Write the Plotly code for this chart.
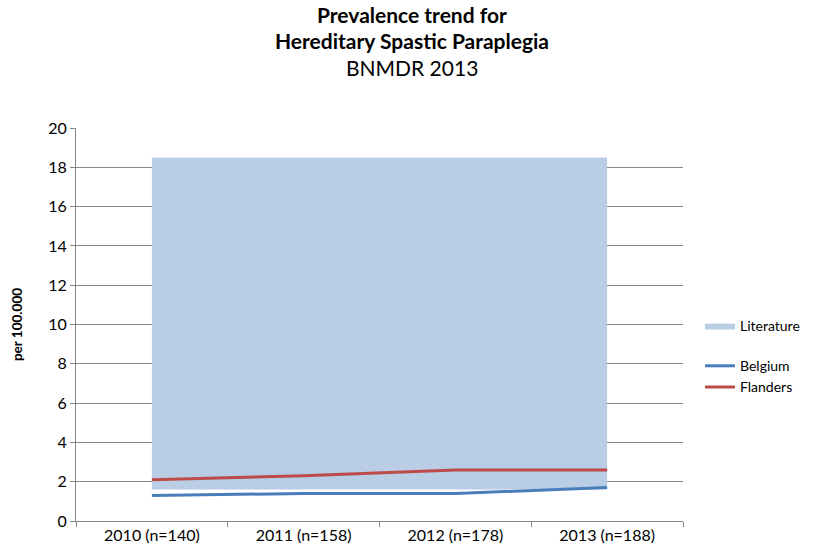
import plotly.graph_objects as go

categories = ["2010 (n=140)", "2011 (n=158)", "2012 (n=178)", "2013 (n=188)"]
literature_low = [1.6, 1.6, 1.6, 1.6]
literature_high = [18.5, 18.5, 18.5, 18.5]
belgium = [1.3, 1.4, 1.4, 1.7]
flanders = [2.1, 2.3, 2.6, 2.6]

title_lines = ["<b>Prevalence trend for</b>", "<b>Hereditary Spastic Paraplegia</b>", "BNMDR 2013"]

FONT = "Lato"
W, H = 813, 557
M_L, M_R, M_T, M_B = 76, 130, 128, 36
PLOT_W = W - M_L - M_R
PLOT_H = H - M_T - M_B


def paper_x(px):
    return (px - M_L) / PLOT_W


def paper_y(py):
    return 1 + (M_T - py) / PLOT_H


fig = go.Figure()

# literature range drawn as a band between the low and high estimates
fig.add_trace(go.Scatter(
    x=categories, y=literature_low, mode="lines",
    line=dict(width=0, color="rgba(0,0,0,0)"),
    showlegend=False, hoverinfo="skip", legendgroup="lit",
))
fig.add_trace(go.Scatter(
    x=categories, y=literature_high, mode="lines", name="Literature",
    fill="tonexty", fillcolor="#B9CDE5",
    line=dict(width=0, color="#B9CDE5"), legendgroup="lit",
))
fig.add_trace(go.Scatter(
    x=categories, y=belgium, mode="lines", name="Belgium",
    line=dict(color="#4A7EBB", width=3), legendgroup="obs",
))
fig.add_trace(go.Scatter(
    x=categories, y=flanders, mode="lines", name="Flanders",
    line=dict(color="#BE4B48", width=3), legendgroup="obs",
))

title_rows = [15, 41, 67]
annotations = [
    dict(text=t, x=paper_x(412), y=paper_y(py), xref="paper", yref="paper",
         xanchor="center", yanchor="middle", showarrow=False,
         font=dict(family=FONT, size=21, color="black"))
    for t, py in zip(title_lines, title_rows)
]

fig.update_layout(
    width=W, height=H,
    margin=dict(l=M_L, r=M_R, t=M_T, b=M_B, autoexpand=False),
    paper_bgcolor="white", plot_bgcolor="white",
    font=dict(family=FONT, size=15, color="black"),
    showlegend=True,
    legend=dict(
        x=paper_x(700), y=paper_y(310), xanchor="left", yanchor="top",
        tracegroupgap=19, traceorder="grouped",
        font=dict(family=FONT, size=14), itemwidth=30,
    ),
    annotations=annotations,
)

fig.update_xaxes(
    type="category", range=[-0.5, 3.5],
    showline=True, linecolor="#868686", linewidth=1,
    ticks="outside", tickson="boundaries", ticklen=5, tickcolor="#868686",
    showgrid=False, tickfont=dict(family=FONT, size=16),
)
fig.update_yaxes(
    range=[0, 20], dtick=2,
    showline=True, linecolor="#868686", linewidth=1,
    ticks="outside", ticklen=5, tickcolor="#868686",
    showgrid=True, gridcolor="#868686", gridwidth=1,
    zeroline=False,
    tickfont=dict(family=FONT, size=16),
    title=dict(text="<b>per 100.000</b>", font=dict(family=FONT, size=13.5), standoff=22),
)

fig.write_html("out.html")
